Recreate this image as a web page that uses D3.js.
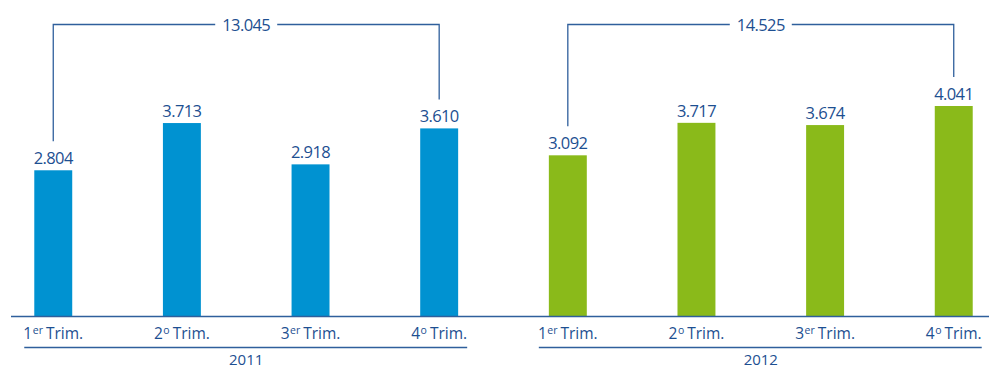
<!DOCTYPE html>
<html>
<head>
<meta charset="utf-8">
<script src="https://cdn.jsdelivr.net/npm/d3@7"></script>
<style>
  html, body { margin: 0; padding: 0; background: #fff; }
  svg text { font-family: "Open Sans", Lato, sans-serif; fill: #1d4f91; }
</style>
</head>
<body>
<svg id="chart" width="989" height="369"></svg>
<script>
// Quarterly results, 2011 and 2012 (thousand units)
const years = ["2011", "2012"];
const quarters = [
  { n: "1", sup: "er" },
  { n: "2", sup: "o" },
  { n: "3", sup: "er" },
  { n: "4", sup: "o" }
];
const values2011 = [2804, 3713, 2918, 3610];
const values2012 = [3092, 3717, 3674, 4041];
const yearTotals = [13045, 14525];
const yearColors = ["#0092d1", "#8aba1a"];

const fmt = v => d3.format(",")(v).replace(/,/g, ".");

const series = [values2011, values2012];
const data = [];
series.forEach((vals, yi) => vals.forEach((v, qi) => data.push({ yi, qi, v, key: years[yi] + "-" + qi })));

const svg = d3.select("#chart");
const baseY = 316;

const x = d3.scaleBand()
  .domain(data.map(d => d.key))
  .range([-11, 1018])
  .paddingInner(0.705)
  .paddingOuter(0.352);

const y = d3.scaleLinear().domain([0, 4041]).range([baseY, 106]);

const lineColor = "#2f5f9c";

// bars
svg.append("g").selectAll("rect").data(data).join("rect")
  .attr("x", d => x(d.key))
  .attr("y", d => y(d.v))
  .attr("width", x.bandwidth())
  .attr("height", d => baseY - y(d.v))
  .attr("fill", d => yearColors[d.yi]);

// value labels
svg.append("g").selectAll("text").data(data).join("text")
  .attr("x", d => x(d.key) + x.bandwidth() / 2)
  .attr("y", d => y(d.v) - 6)
  .attr("text-anchor", "middle")
  .attr("font-size", 16.5)
  .attr("font-weight", 500)
  .attr("letter-spacing", -0.6)
  .text(d => fmt(d.v));

// baseline
svg.append("line")
  .attr("x1", 11).attr("x2", 989)
  .attr("y1", baseY + 0.5).attr("y2", baseY + 0.5)
  .attr("stroke", lineColor).attr("stroke-width", 1.3);

// quarter labels with superscripts
const ql = svg.append("g").selectAll("text").data(data).join("text")
  .attr("x", d => x(d.key) + x.bandwidth() / 2)
  .attr("y", 339)
  .attr("text-anchor", "middle")
  .attr("font-size", 15.5)
  .attr("font-weight", 500);
ql.append("tspan").text(d => quarters[d.qi].n);
ql.append("tspan").attr("dy", -5).attr("dx", 0.5).attr("font-size", 10.5).text(d => quarters[d.qi].sup);
ql.append("tspan").attr("dy", 5).attr("dx", 3).text("Trim.");

// year groups: underline, year label, total bracket
years.forEach((yr, yi) => {
  const first = x(yr + "-0") + x.bandwidth() / 2;
  const last = x(yr + "-3") + x.bandwidth() / 2;
  const g = svg.append("g");
  g.append("line")
    .attr("x1", first - 29).attr("x2", last + 28)
    .attr("y1", 347.5).attr("y2", 347.5)
    .attr("stroke", lineColor).attr("stroke-width", 1.3);
  g.append("text")
    .attr("x", (first + last) / 2)
    .attr("y", 365)
    .attr("text-anchor", "middle")
    .attr("font-size", 15)
    .attr("font-weight", 500)
    .text(yr);

  // total bracket joining the first and last quarter
  const mid = (first + last) / 2;
  const topY = 24.5;
  const halfGap = 31;
  const v0 = series[yi][0], v3 = series[yi][3];
  g.append("path")
    .attr("d", `M${first},${y(v0) - 29}V${topY}H${mid - halfGap}`)
    .attr("fill", "none").attr("stroke", lineColor).attr("stroke-width", 1.3);
  g.append("path")
    .attr("d", `M${mid + halfGap},${topY}H${last}V${y(v3) - 29}`)
    .attr("fill", "none").attr("stroke", lineColor).attr("stroke-width", 1.3);
  g.append("text")
    .attr("x", mid)
    .attr("y", topY + 6)
    .attr("text-anchor", "middle")
    .attr("font-size", 16.5)
    .attr("font-weight", 500)
    .attr("letter-spacing", -0.6)
    .text(fmt(yearTotals[yi]));
});
</script>
</body>
</html>
